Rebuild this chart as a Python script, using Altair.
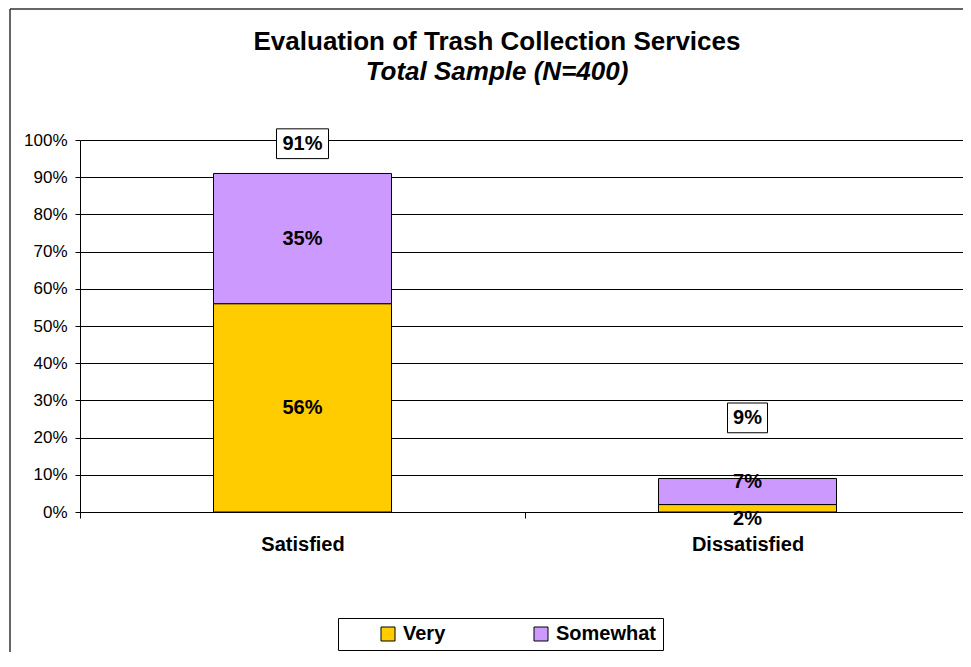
import altair as alt
import pandas as pd

# ---- data ----
categories = ["Satisfied", "Dissatisfied"]
ratings = ["Very", "Somewhat"]
very = [56, 2]
somewhat = [35, 7]
totals = [91, 9]
colors = ["#FFCC00", "#CC99FF"]
title_text = "Evaluation of Trash Collection Services"
subtitle_text = "Total Sample (N=400)"
y_ticks = [0, 10, 20, 30, 40, 50, 60, 70, 80, 90, 100]

rows = []
for i, c in enumerate(categories):
    rows.append({"cat": c, "rating": ratings[0], "order": 0, "value": very[i]})
    rows.append({"cat": c, "rating": ratings[1], "order": 1, "value": somewhat[i]})
df = pd.DataFrame(rows)
tot = pd.DataFrame({"cat": categories, "total": totals})
one = pd.DataFrame({"a": [0]})

FONT = "Liberation Sans"
W, H = 883, 372

x_axis = alt.Axis(
    title=None, labelAngle=0, labelFont=FONT, labelFontSize=20, labelFontWeight="bold",
    labelColor="black", tickBand="extent", tickColor="black", tickSize=6,
    labelPadding=16, domainColor="black", grid=False,
)
x_scale = alt.Scale(domain=categories, paddingInner=0, paddingOuter=0, range=[0, 890])
y_axis = alt.Axis(
    title=None, values=y_ticks, labelExpr="datum.value + '%'", labelFont=FONT,
    labelFontSize=17, labelColor="black", tickColor="black", tickSize=5,
    labelPadding=8, domainColor="black", grid=True, gridColor="black",
    gridOpacity=1, gridWidth=1,
)
y_scale = alt.Scale(domain=[0, 100], nice=False, zero=True)


def X():
    return alt.X("cat:N", sort=categories, scale=x_scale, axis=x_axis)


def Y(field):
    return alt.Y(field, scale=y_scale, axis=y_axis)


stacked = alt.Chart(df).transform_stack(
    stack="value", groupby=["cat"], as_=["y0", "y1"],
    sort=[alt.SortField("order", order="ascending")],
)

bars = stacked.mark_bar(width=178, stroke="black", strokeWidth=1).encode(
    x=X(),
    y=Y("y0:Q"),
    y2="y1:Q",
    color=alt.Color(
        "rating:N",
        scale=alt.Scale(domain=ratings, range=colors),
        legend=alt.Legend(
            title=None, orient="none", legendX=258, legendY=478,
            direction="horizontal", symbolType="square", symbolSize=196,
            symbolStrokeColor="black", symbolStrokeWidth=1, symbolOffset=34,
            labelFont=FONT, labelFontSize=20, labelFontWeight="bold",
            labelColor="black", labelOffset=5, columnPadding=51,
            strokeColor="black", fillColor="white", padding=6,
        ),
    ),
    order=alt.Order("order:Q"),
)

seg_labels = stacked.transform_calculate(
    ly="datum.value < 5 ? datum.y0 - 1.9 : (datum.value < 10 ? datum.y1 - 1 : (datum.y0 + datum.y1) / 2)",
    txt="datum.value + '%'",
).mark_text(font=FONT, fontSize=20, fontWeight="bold", color="black", baseline="middle").encode(
    x=X(), y=Y("ly:Q"), text="txt:N"
)

tot_base = alt.Chart(tot).transform_calculate(
    lab="datum.total + (datum.total > 50 ? 8 : 16.3)",
    lo="datum.lab - 4",
    hi="datum.lab + 4",
    txt="datum.total + '%'",
    w="length(datum.total + '%') * 12 + 16",
)
tot_boxes = tot_base.mark_bar(fill="white", stroke="black", strokeWidth=1).encode(
    x=X(), y=Y("lo:Q"), y2="hi:Q", size=alt.Size("w:Q", scale=None, legend=None)
)
tot_text = tot_base.mark_text(font=FONT, fontSize=20, fontWeight="bold", color="black", baseline="middle").encode(
    x=X(), y=Y("lab:Q"), text="txt:N"
)

title1 = alt.Chart(one).mark_text(
    text=title_text, font=FONT, fontSize=26, fontWeight="bold", color="black",
    align="center", baseline="alphabetic",
).encode(x=alt.value(417), y=alt.value(-90))
title2 = alt.Chart(one).mark_text(
    text=subtitle_text, font=FONT, fontSize=26, fontWeight="bold", fontStyle="italic",
    color="black", align="center", baseline="alphabetic",
).encode(x=alt.value(417), y=alt.value(-60))

frame_left = alt.Chart(one).mark_rule(color="#333333", strokeWidth=1.5).encode(
    x=alt.value(-70), y=alt.value(-131), y2=alt.value(520)
)
frame_top = alt.Chart(one).mark_rule(color="#333333", strokeWidth=1.5).encode(
    x=alt.value(-70), x2=alt.value(900), y=alt.value(-131)
)

chart = alt.layer(
    bars, seg_labels, tot_boxes, tot_text, title1, title2, frame_left, frame_top
).properties(
    width=W, height=H,
    autosize=alt.AutoSizeParams(type="none"),
    padding={"left": 72, "top": 132, "right": 0, "bottom": 140},
).configure_view(stroke=None).configure(background="white")

chart.save("out.html", embed_options={"renderer": "svg", "actions": False})
